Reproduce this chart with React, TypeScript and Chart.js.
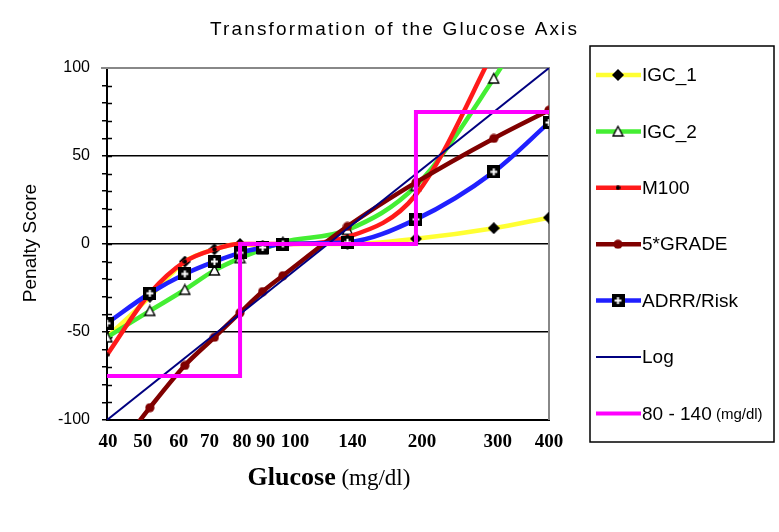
import React, { useEffect, useRef } from "react";
import { Chart, registerables } from "chart.js";

Chart.register(...registerables);

// ---------- data ----------
const glucose = [40, 50, 60, 70, 80, 90, 100, 140, 200, 300, 400];
const xTickValues = [40, 50, 60, 70, 80, 90, 100, 140, 200, 300, 400];
const yTickLabels = [100, 50, 0, -50, -100];

const igc1 = [-53, -30, -10, -3, 0, -1, 0, 0, 3, 9, 15];
const igc2 = [-53, -38, -26, -15, -8, -3, 1, 8, 33, 94, 145];
const m100 = [-63, -28, -10, -3, 0, 0, 0, 4, 28, 110, 175];
const grade5 = [-125, -93, -69, -53, -39, -27, -18, 10, 35, 60, 76];
const adrr = [-45, -28, -17, -10, -5, -2, 0, 1, 14, 41, 69];
const logX = [40, 400];
const logY = [-100, 100];
const rangeX = [40, 80, 80, 200, 200, 400];
const rangeY = [-75, -75, 0, 0, 75, 75];

const seriesNames = ["IGC_1", "IGC_2", "M100", "5*GRADE", "ADRR/Risk", "Log", "80 - 140"];
const seriesColors = ["#ffff33", "#44ee33", "#ff1a1a", "#800000", "#2020ff", "#000080", "#ff00ff"];
const seriesWidths = [4.5, 4.5, 4.5, 4.5, 4.5, 2, 4];

// small horizontal nudges of the x tick labels (as placed in the original)
const xLabelNudge = [1, -7, -6, -5, 2, 3, 12, 5, 6, 4, 0];

const titleText = "Transformation of the Glucose Axis";
const yTitleText = "Penalty Score";

function makeMarker(size: number, draw: (c: CanvasRenderingContext2D) => void) {
  const cv = document.createElement("canvas");
  cv.width = size;
  cv.height = size;
  const c = cv.getContext("2d")!;
  draw(c);
  return cv;
}

function buildMarkers() {
  const diamond = makeMarker(12, (c) => {
    c.fillStyle = "#000";
    c.beginPath();
    c.moveTo(6, 0);
    c.lineTo(12, 6);
    c.lineTo(6, 12);
    c.lineTo(0, 6);
    c.closePath();
    c.fill();
  });
  const triangle = makeMarker(13, (c) => {
    c.fillStyle = "#fff";
    c.strokeStyle = "#000";
    c.lineWidth = 1.4;
    c.beginPath();
    c.moveTo(6.5, 1.5);
    c.lineTo(11.5, 11);
    c.lineTo(1.5, 11);
    c.closePath();
    c.fill();
    c.stroke();
  });
  const dot = makeMarker(5, (c) => {
    c.fillStyle = "#000";
    c.beginPath();
    c.arc(2.5, 2.5, 2.2, 0, Math.PI * 2);
    c.fill();
  });
  const circle = makeMarker(10, (c) => {
    c.fillStyle = "#800000";
    c.beginPath();
    c.arc(5, 5, 4.6, 0, Math.PI * 2);
    c.fill();
  });
  const squarePlus = makeMarker(13, (c) => {
    c.fillStyle = "#000";
    c.fillRect(0, 0, 13, 13);
    c.strokeStyle = "#fff";
    c.lineWidth = 2;
    c.beginPath();
    c.moveTo(6.5, 3);
    c.lineTo(6.5, 10);
    c.moveTo(3, 6.5);
    c.lineTo(10, 6.5);
    c.stroke();
  });
  return [diamond, triangle, dot, circle, squarePlus, null, null];
}

const toPoints = (xs: number[], ys: number[]) => xs.map((x, i) => ({ x, y: ys[i] }));

export default function App() {
  const ref = useRef<HTMLCanvasElement | null>(null);

  useEffect(() => {
    if (!ref.current) return;
    const markers = buildMarkers();
    const curveData = [igc1, igc2, m100, grade5, adrr];

    const datasets: any[] = curveData.map((ys, i) => ({
      label: seriesNames[i],
      data: toPoints(glucose, ys),
      borderColor: seriesColors[i],
      backgroundColor: seriesColors[i],
      borderWidth: seriesWidths[i],
      pointStyle: markers[i],
      pointRadius: 5,
      cubicInterpolationMode: "monotone",
      order: 10 - i,
    }));
    datasets.push({
      label: seriesNames[5],
      data: toPoints(logX, logY),
      borderColor: seriesColors[5],
      borderWidth: seriesWidths[5],
      pointRadius: 0,
      tension: 0,
      order: 4,
    });
    datasets.push({
      label: seriesNames[6],
      data: toPoints(rangeX, rangeY),
      borderColor: seriesColors[6],
      borderWidth: seriesWidths[6],
      pointRadius: 0,
      tension: 0,
      order: 3,
    });

    const decor = {
      id: "decor",
      beforeDatasetsDraw(chart: any) {
        const { ctx, chartArea: a, scales } = chart;
        const y = scales.y;
        ctx.save();
        ctx.strokeStyle = "#888";
        ctx.lineWidth = 2;
        ctx.beginPath();
        ctx.moveTo(a.left - 6, a.top);
        ctx.lineTo(a.right, a.top);
        ctx.lineTo(a.right, a.bottom);
        ctx.stroke();
        ctx.strokeStyle = "#000";
        ctx.lineWidth = 1.5;
        ctx.beginPath();
        for (let v = -90; v <= 90; v += 10) {
          const yy = Math.round(y.getPixelForValue(v)) + 0.5;
          ctx.moveTo(a.left, yy);
          ctx.lineTo(a.left + 5, yy);
        }
        ctx.stroke();
        ctx.restore();
      },
      afterDraw(chart: any) {
        const { ctx, scales } = chart;
        const xs = scales.x;
        ctx.save();
        ctx.fillStyle = "#000";
        // x tick labels
        ctx.font = "bold 19px 'Liberation Serif', 'Times New Roman', serif";
        ctx.textAlign = "center";
        ctx.textBaseline = "middle";
        xTickValues.forEach((v, i) => {
          ctx.fillText(String(v), xs.getPixelForValue(v) + xLabelNudge[i], 442);
        });
        // title
        ctx.font = "19px 'Liberation Sans', Arial, sans-serif";
        ctx.textBaseline = "alphabetic";
        ctx.textAlign = "center";
        const natural = ctx.measureText(titleText).width;
        const sp = Math.max(0, (367 - natural) / (titleText.length - 1));
        try { (ctx as any).letterSpacing = sp.toFixed(2) + "px"; } catch (e) {}
        ctx.fillText(titleText, 393.5 + sp / 2, 35);
        try { (ctx as any).letterSpacing = "0px"; } catch (e) {}
        // y title
        ctx.save();
        ctx.translate(36, 243);
        ctx.rotate(-Math.PI / 2);
        ctx.font = "19px 'Liberation Sans', Arial, sans-serif";
        ctx.textAlign = "center";
        ctx.fillText(yTitleText, 0, 0);
        ctx.restore();
        // x title
        ctx.textAlign = "left";
        const bFont = "bold 26px 'Liberation Serif', 'Times New Roman', serif";
        const rFont = "23px 'Liberation Serif', 'Times New Roman', serif";
        ctx.font = bFont;
        const w1 = ctx.measureText("Glucose").width;
        ctx.font = rFont;
        const w2 = ctx.measureText(" (mg/dl)").width;
        const x0 = 329 - (w1 + w2) / 2;
        ctx.font = bFont;
        ctx.fillText("Glucose", x0, 485);
        ctx.font = rFont;
        ctx.fillText(" (mg/dl)", x0 + w1, 485);
        // legend box
        ctx.strokeStyle = "#000";
        ctx.lineWidth = 1.5;
        ctx.strokeRect(590, 46, 184, 396);
        const y0 = 75;
        const step = 56.4;
        for (let i = 0; i < seriesNames.length; i++) {
          const yy = y0 + i * step;
          ctx.strokeStyle = seriesColors[i];
          ctx.lineWidth = seriesWidths[i];
          ctx.beginPath();
          ctx.moveTo(596, yy);
          ctx.lineTo(641, yy);
          ctx.stroke();
          const m = markers[i];
          if (m) ctx.drawImage(m, 618 - m.width / 2, yy - m.height / 2);
          ctx.fillStyle = "#000";
          ctx.textBaseline = "middle";
          ctx.font = "19px 'Liberation Sans', Arial, sans-serif";
          ctx.fillText(seriesNames[i], 642, yy + 1);
          if (i === 6) {
            const tw = ctx.measureText(seriesNames[i]).width;
            ctx.font = "15px 'Liberation Sans', Arial, sans-serif";
            ctx.fillText(" (mg/dl)", 642 + tw, yy + 1);
          }
        }
        ctx.restore();
      },
    };

    const chart = new Chart(ref.current, {
      type: "line",
      data: { datasets },
      options: {
        responsive: false,
        animation: false,
        events: [],
        layout: { padding: { left: 0, top: 68, right: 230, bottom: 0 } },
        plugins: { legend: { display: false }, title: { display: false }, tooltip: { enabled: false } },
        scales: {
          x: {
            type: "logarithmic",
            min: 40,
            max: 400,
            afterBuildTicks: (scale: any) => {
              scale.ticks = xTickValues.map((v) => ({ value: v }));
            },
            afterFit: (scale: any) => {
              scale.height = 112;
            },
            ticks: { display: false, autoSkip: false },
            grid: { drawOnChartArea: false, drawTicks: false },
            border: { display: true, color: "#000", width: 2 },
          },
          y: {
            type: "linear",
            min: -100,
            max: 100,
            afterFit: (scale: any) => {
              scale.width = 107;
            },
            ticks: {
              stepSize: 10,
              autoSkip: false,
              padding: 12,
              color: "#000",
              font: { family: "'Liberation Sans', Arial, sans-serif", size: 16 },
              callback: (v: any) => (yTickLabels.includes(Number(v)) ? String(v) : ""),
            },
            grid: {
              color: (c: any) => {
                const v = c.tick ? c.tick.value : NaN;
                return v === 50 || v === 0 || v === -50 ? "#000" : "rgba(0,0,0,0)";
              },
              lineWidth: 1.5,
              tickColor: "#000",
              tickLength: 5,
              tickWidth: 1.5,
            },
            border: { display: true, color: "#000", width: 2 },
          },
        },
      },
      plugins: [decor],
    } as any);

    return () => chart.destroy();
  }, []);

  return (
    <div style={{ position: "fixed", left: 0, top: 0, width: 779, height: 532, background: "#fff" }}>
      <canvas ref={ref} width={779} height={532} style={{ display: "block" }} />
    </div>
  );
}
